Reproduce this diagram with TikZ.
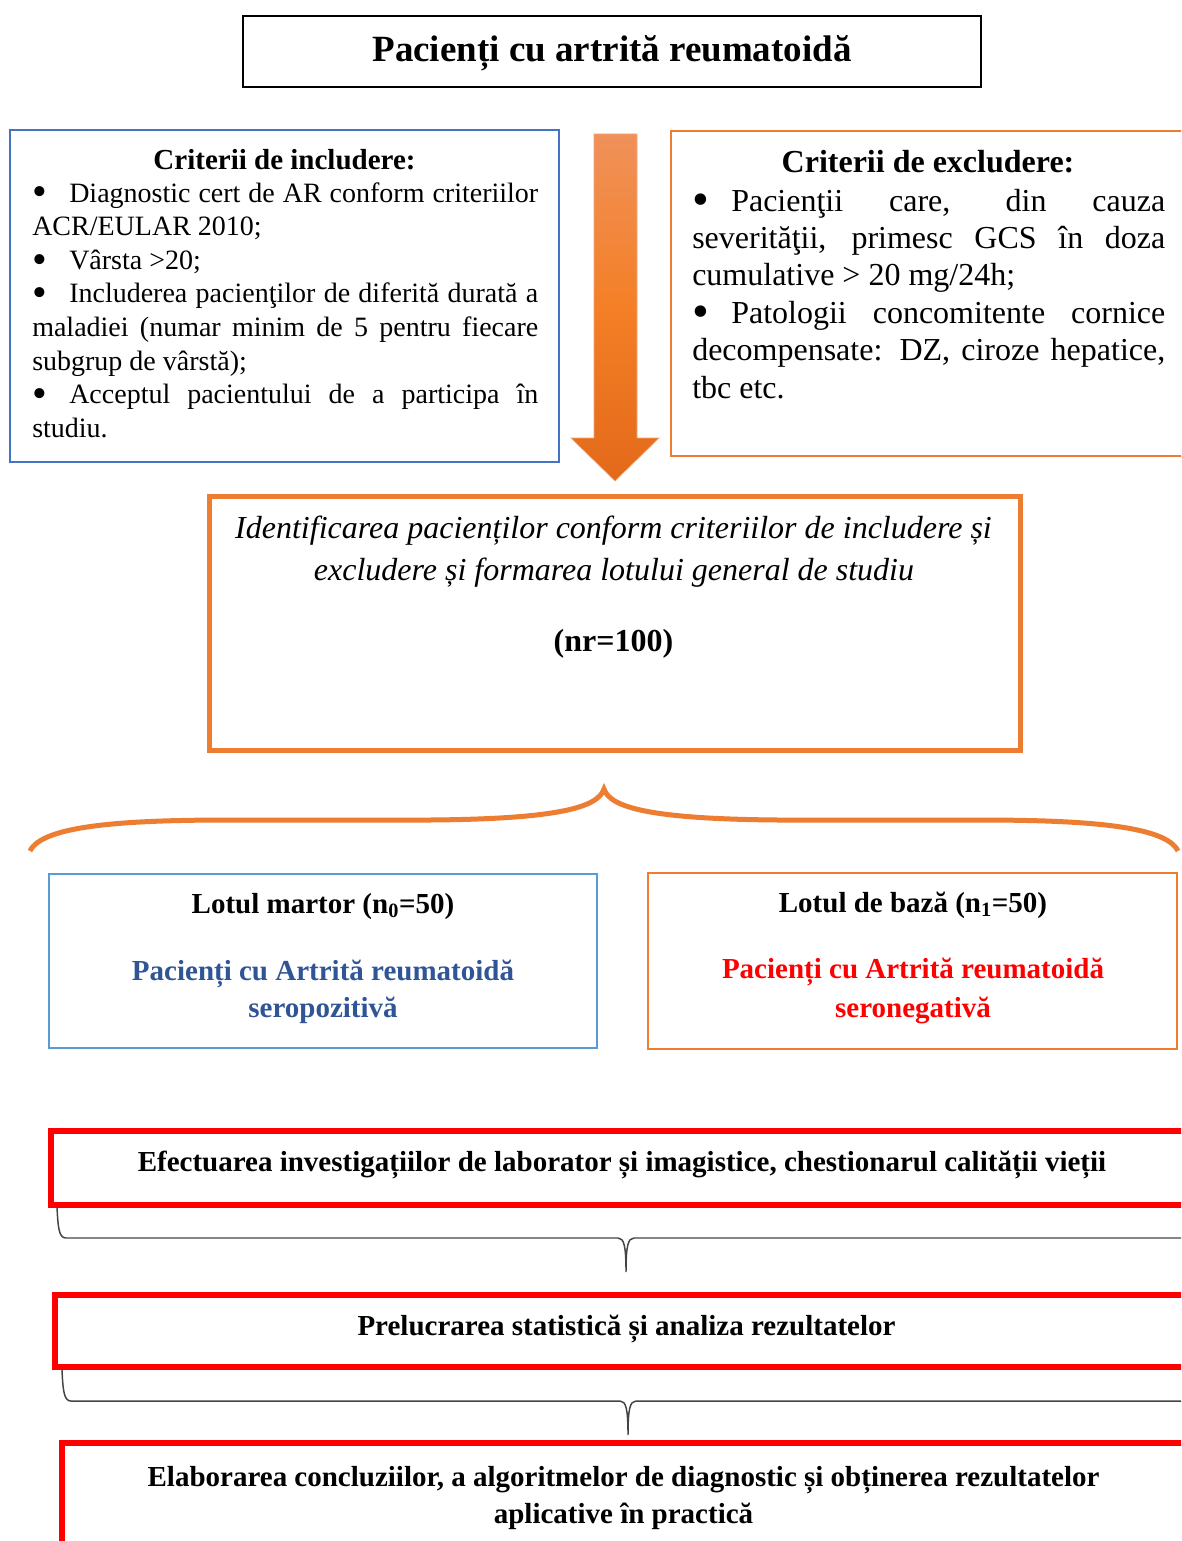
\documentclass[tikz,border=0pt]{standalone}
\usepackage{fontspec}
\usepackage{graphicx}
\setmainfont{Liberation Serif}
\newlength{\pxu}\setlength{\pxu}{0.75pt}
\newcommand{\fsz}[2]{\fontsize{#1pt}{#2pt}\selectfont}
\newcommand{\bigbul}{\smash{\raisebox{-0.14em}{\scalebox{1.5}{•}}}}
\definecolor{incblue}{HTML}{4472C4}
\definecolor{lotblue}{HTML}{5B9BD5}
\definecolor{txtblue}{HTML}{2F5597}
\definecolor{orng}{HTML}{ED7D31}
\definecolor{arrtop}{HTML}{F0915A}
\definecolor{arrmid}{HTML}{F47F26}
\definecolor{arrbot}{HTML}{E3691A}
\definecolor{redb}{HTML}{FF0000}
\definecolor{brk}{HTML}{444444}
\begin{document}
\begin{tikzpicture}[x=0.75pt,y=-0.75pt,
  box/.style={draw, inner sep=0pt, outer sep=0pt, fill=none},
  txt/.style={anchor=base, inner sep=0pt},
  ltxt/.style={anchor=base west, inner sep=0pt},
  inc/.style={ltxt, font=\fsz{21}{25}},
  exc/.style={ltxt, font=\fsz{24}{28}},
  redtxt/.style={txt, font=\fsz{21.75}{26}\bfseries},
  lottxt/.style={txt, font=\fsz{21.75}{26}\bfseries}]
\clip (0,0) rectangle (1181,1541);
\fill[white] (0,0) rectangle (1181,1541);

% title
\node[box, line width=1.9pt, minimum width=738\pxu, minimum height=71\pxu] (titlebox) at (612,51.5) {};
\node[txt, font=\fsz{27.75}{32}\bfseries] (title) at (612,62) {Pacienți cu artrită reumatoidă};

% inclusion box
\node[box, draw=incblue, line width=1.6pt, minimum width=549\pxu, minimum height=332\pxu] (incbox) at (284.5,296) {};
\node[txt, font=\fsz{21.75}{26}\bfseries] (inct) at (284.5,170) {Criterii de includere:};
\node[inc] (i1) at (32,202) {\makebox[506\pxu][s]{\makebox[37\pxu][l]{\bigbul}Diagnostic cert de AR conform criteriilor}};
\node[inc] (i2) at (32,235.6) {ACR/EULAR 2010;};
\node[inc] (i3) at (32,269.2) {\makebox[37\pxu][l]{\bigbul}Vârsta >20;};
\node[inc] (i4) at (32,302.8) {\makebox[506\pxu][s]{\makebox[37\pxu][l]{\bigbul}Includerea pacienţilor de diferită durată a}};
\node[inc] (i5) at (32,336.4) {\makebox[506\pxu][s]{maladiei (numar minim de 5 pentru fiecare}};
\node[inc] (i6) at (32,370) {subgrup de vârstă);};
\node[inc] (i7) at (32,403.6) {\makebox[506\pxu][s]{\makebox[37\pxu][l]{\bigbul}Acceptul pacientului de a participa în}};
\node[inc] (i8) at (32,437.2) {studiu.};

% exclusion box
\node[box, draw=orng, line width=1.6pt, minimum width=524\pxu, minimum height=325\pxu] (excbox) at (933,293.5) {};
\node[txt, font=\fsz{24}{28}\bfseries] (exct) at (928,173) {Criterii de excludere:};
\node[exc] (e1) at (692,211) {\makebox[473\pxu][s]{\makebox[39\pxu][l]{\bigbul}Pacienţii care, din cauza}};
\node[exc] (e2) at (692,248.4) {\makebox[473\pxu][s]{severităţii, primesc GCS în doza}};
\node[exc] (e3) at (692,285.8) {cumulative > 20 mg/24h;};
\node[exc] (e4) at (692,323.2) {\makebox[473\pxu][s]{\makebox[39\pxu][l]{\bigbul}Patologii concomitente cornice}};
\node[exc] (e5) at (692,360.6) {\makebox[473\pxu][s]{decompensate: DZ, ciroze hepatice,}};
\node[exc] (e6) at (692,398) {tbc etc.};

% big arrow
\path[top color=arrtop, bottom color=arrbot, middle color=arrmid, draw=arrtop!80!white, line width=0.5pt]
  (594,134) -- (637,134) -- (637,438) -- (659,438) -- (615,481) -- (571,438) -- (594,438) -- cycle;

% middle box
\node[box, draw=orng, line width=3.75pt, minimum width=811\pxu, minimum height=254\pxu] (midbox) at (614.5,623) {};
\node[txt, font=\fsz{24}{28}\itshape] (m1) at (613.5,538) {Identificarea pacienților conform criteriilor de includere și};
\node[txt, font=\fsz{24}{28}\itshape] (m2) at (614,580) {excludere și formarea lotului general de studiu};
\node[txt, font=\fsz{24}{28}\bfseries] (m3) at (613.5,651) {(nr=100)};

% brace
\coordinate (bl) at (30,851);
\coordinate (btip) at (604,789);
\coordinate (br) at (1178,851);
\draw[orng, line width=3.75pt]
  (bl) .. controls (42,826) and (120,820) .. (230,820) -- (430,820)
  .. controls (555,819) and (598,808) .. (btip)
  .. controls (610,808) and (653,819) .. (778,820) -- (978,820)
  .. controls (1088,820) and (1166,826) .. (br);

% groups
\node[box, draw=lotblue, line width=1.9pt, minimum width=548\pxu, minimum height=174\pxu] (martor) at (323,961) {};
\node[lottxt] (mt1) at (323,913) {Lotul martor (n\textsubscript{0}=50)};
\node[lottxt, text=txtblue] (mt2) at (323,980) {Pacienți cu Artrită reumatoidă};
\node[lottxt, text=txtblue] (mt3) at (323,1017) {seropozitivă};

\node[box, draw=orng, line width=1.9pt, minimum width=529\pxu, minimum height=176\pxu] (baza) at (912.5,961) {};
\node[lottxt] (bt1) at (913,912) {Lotul de bază (n\textsubscript{1}=50)};
\node[lottxt, text=redb] (bt2) at (913,978) {Pacienți cu Artrită reumatoidă};
\node[lottxt, text=redb] (bt3) at (913,1017) {seronegativă};

% red steps
\node[box, draw=redb, line width=4.5pt, minimum width=1149\pxu, minimum height=74\pxu] (r1) at (625.5,1168) {};
\node[redtxt] (r1t) at (622,1171) {Efectuarea investigațiilor de laborator și imagistice, chestionarul calității vieții};

\node[box, draw=redb, line width=4.5pt, minimum width=1145\pxu, minimum height=72\pxu] (r2) at (627.5,1330.5) {};
\node[redtxt] (r2t) at (626.5,1335) {Prelucrarea statistică și analiza rezultatelor};

\node[box, draw=redb, line width=4.5pt, minimum width=1138\pxu, minimum height=117\pxu] (r3) at (631,1501.5) {};
\node[redtxt] (r3t) at (623.5,1486) {Elaborarea concluziilor, a algoritmelor de diagnostic și obținerea rezultatelor};
\node[redtxt] (r3u) at (623.5,1523) {aplicative în practică};

% thin brackets
\coordinate (k1l) at (57,1207);
\coordinate (k1t) at (626,1272);
\coordinate (k1r) at (1200,1238);
\draw[brk, line width=1.1pt]
  (k1l) .. controls (58,1228) and (59,1238) .. (66,1238) -- (618,1238)
  .. controls (624,1238) and (626,1246) .. (k1t)
  .. controls (626,1246) and (628,1238) .. (634,1238) -- (k1r);
\coordinate (k2l) at (62,1370);
\coordinate (k2t) at (628,1435);
\coordinate (k2r) at (1200,1401);
\draw[brk, line width=1.1pt]
  (k2l) .. controls (63,1391) and (64,1401) .. (71,1401) -- (620,1401)
  .. controls (626,1401) and (628,1409) .. (k2t)
  .. controls (628,1409) and (630,1401) .. (636,1401) -- (k2r);
\end{tikzpicture}
\end{document}
